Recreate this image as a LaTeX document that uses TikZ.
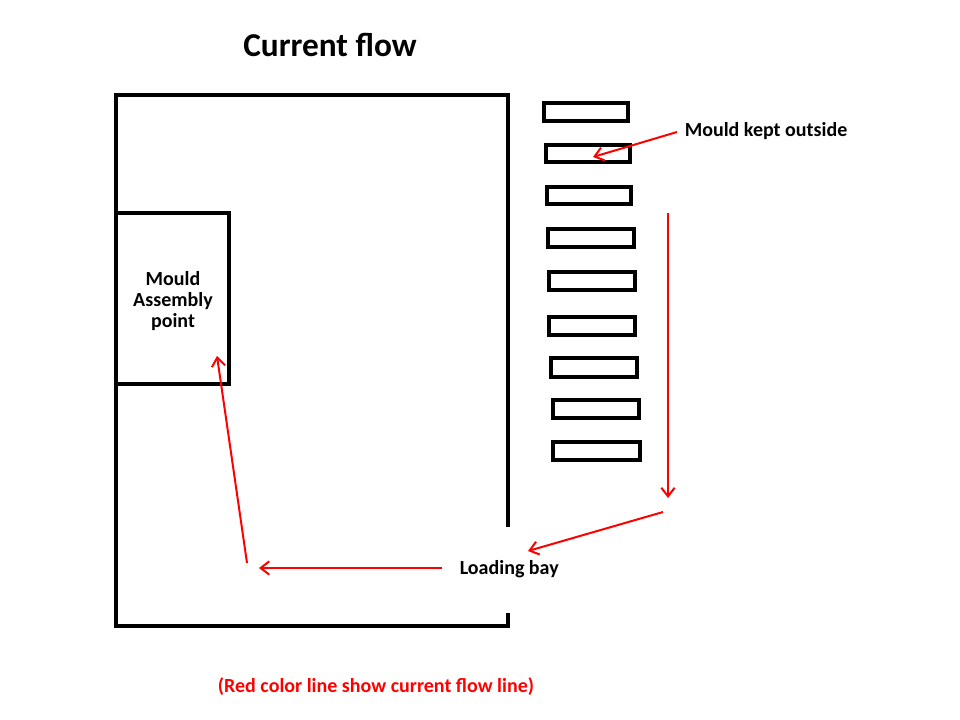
\documentclass[tikz,border=0pt]{standalone}
\usepackage{fontspec}
\setmainfont{Carlito}
\usetikzlibrary{arrows.meta}
\usetikzlibrary{math}
\usetikzlibrary{calc}

\begin{document}
\begin{tikzpicture}[x=0.75pt,y=-0.75pt,line width=2.7pt,
  flow/.style={red, line width=1.5pt, -{Straight Barb[length=6.5pt,width=10pt]}},
  tag/.style={font=\fontsize{15}{15.8}\selectfont\bfseries, inner sep=0pt}]

  \tikzmath{
    \xwest  = 116; % west wall
    \xeast  = 508; % east wall
    \ynorth = 95;  % north wall
    \ysouth = 626; % south wall
    \gaptop = 527; % top of the loading bay opening
    \gapbot = 613; % bottom of the loading bay opening
  }

  \useasboundingbox (0,0) rectangle (960,720);

  % Title
  \node[font=\fontsize{25}{30}\selectfont\bfseries] (title) at (330,45) {Current flow};

  % Shop floor outline with opening for the loading bay
  \coordinate (NW) at (\xwest, \ynorth);
  \coordinate (NE) at (\xeast, \ynorth);
  \coordinate (SW) at (\xwest, \ysouth);
  \coordinate (SE) at (\xeast, \ysouth);
  \coordinate (gapT) at (\xeast, \gaptop);
  \coordinate (gapB) at (\xeast, \gapbot);
  \draw (gapT) -- (NE) -- (NW) -- (SW) -- (SE) -- (gapB);

  % Mould assembly point
  \draw (\xwest, 213) rectangle (229, 384);
  \node[tag, align=center] (assembly) at (173, 301) {Mould\\Assembly\\point};

  % Moulds kept outside
  \draw (544, 103) rectangle (628, 121);
  \draw (546, 145) rectangle (630, 162);
  \draw (547, 187) rectangle (631, 204);
  \draw (548, 229) rectangle (634, 247);
  \draw (549, 272) rectangle (635, 290);
  \draw (549, 317) rectangle (635, 335);
  \draw (551, 358) rectangle (637, 377);
  \draw (553, 400) rectangle (639, 418);
  \draw (553, 442) rectangle (640, 460);

  \node[tag, anchor=west] (outside) at (683, 131) {Mould kept outside};
  \coordinate (mould) at (593, 157);
  \draw[flow] ($ (outside.west) + (-6, 1) $) -- (mould);

  % Flow line
  \node[tag, anchor=west] (bay) at (458, 569) {Loading bay};
  \coordinate (A) at (668, 213);
  \coordinate (B) at (668, 498);
  \coordinate (C) at (663, 512);
  \coordinate (D) at (528, 551);
  \coordinate (E) at (259, 568);
  \coordinate (F) at (247, 563);
  \coordinate (G) at (217, 356);
  \draw[flow] (A) -- (B);
  \draw[flow] (C) -- (D);
  \draw[flow] ($ (bay.west) + (-16, -1) $) -- (E);
  \draw[flow] (F) -- (G);

  % Note
  \node[tag, red] (note) at (376, 687) {(Red color line show current flow line)};

\end{tikzpicture}
\end{document}
